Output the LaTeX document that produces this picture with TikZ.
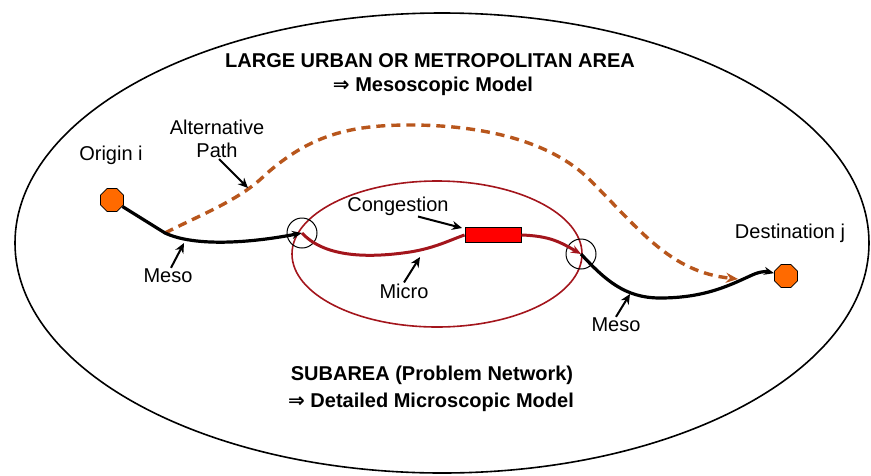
\documentclass[tikz,border=0pt]{standalone}
\usepackage{fontspec}
\setmainfont{Liberation Sans}
\newfontfamily\arrowfont{DejaVu Sans}
\usetikzlibrary{arrows.meta,positioning,shapes.geometric}
\definecolor{pathbrown}{HTML}{B8561C}
\definecolor{microred}{HTML}{A3151C}
\definecolor{nodeorange}{HTML}{FF6A00}
\newcommand{\implarrow}{{\arrowfont\bfseries ⇒}}
\tikzset{
  lbl/.style={font=\fontsize{20}{23}\selectfont, inner sep=1pt},
  ttl/.style={font=\fontsize{20}{23}\selectfont\bfseries, inner sep=1pt},
  endpt/.style={regular polygon, regular polygon sides=8, draw=black, fill=nodeorange,
    minimum size=25pt, inner sep=0pt, line width=0.8pt},
  junc/.style={circle, draw=black, minimum size=30pt, inner sep=0pt, line width=1pt},
  meso/.style={-{Stealth[length=10pt,width=8pt]}, line width=3.2pt, black},
  micro/.style={line width=3pt, microred},
  alt/.style={-{Stealth[length=12pt,width=10pt]}, dash pattern=on 9pt off 6pt, line width=3.4pt, pathbrown},
  ptr/.style={-{Stealth[length=10pt,width=9pt]}, line width=2pt},
}

\begin{document}
\begin{tikzpicture}[x=1pt,y=-1pt]
  \useasboundingbox (0,0) rectangle (871,475);
  % study area and subarea
  \draw[line width=1.6pt] (442,243) ellipse [x radius=427, y radius=230];
  \draw[microred, line width=1.6pt] (437,254) ellipse [x radius=145, y radius=73];

  \node[endpt] (orig) at (112,200) {};
  \node[endpt] (dest) at (786,276) {};
  \node[junc] (jA) at (302,233) {};
  \node[junc] (jB) at (581,254) {};
  \node[draw=black, fill=red, minimum width=56pt, minimum height=15pt,
    inner sep=0pt, line width=0.9pt] (cong) at (493,235) {};

  \node[ttl] (areaT) at (430,61) {LARGE URBAN OR METROPOLITAN AREA};
  \node[ttl] (areaM) at (433,86) {\implarrow{} Mesoscopic Model};
  \node[ttl] (subT) at (432,375) {SUBAREA (Problem Network)};
  \node[ttl] (subM) at (431,402) {\implarrow{} Detailed Microscopic Model};

  \node[lbl] (lblOrig) at (111,155) {Origin i};
  \node[lbl, align=center] (lblAlt) at (217,139) {Alternative\\Path};
  \node[lbl] (lblMesoA) at (168,276) {Meso};
  \node[lbl] (lblCong) at (398,206) {Congestion};
  \node[lbl] (lblMicro) at (404,291) {Micro};
  \node[lbl] (lblMesoB) at (616,325) {Meso};
  \node[lbl] (lblDest) at (790,233) {Destination j};

  \coordinate (split) at (165,233);
  \coordinate (altEnd) at (738,279);
  \coordinate (altPt) at (248,188);
  \coordinate (mesoAPt) at (184,243);
  \coordinate (congPt) at (462,228);
  \coordinate (microPt) at (420,257);
  \coordinate (mesoBPt) at (630,294);

  % alternative route
  \draw[alt] (split) .. controls (200,215) and (240,200) .. (265,175)
    .. controls (310,135) and (350,125) .. (410,125)
    .. controls (480,125) and (550,140) .. (590,180)
    .. controls (640,230) and (670,272) .. (altEnd);

  % main route
  \draw[meso] (orig) -- (split) .. controls (195,247) and (250,243) .. (jA.center);
  \draw[micro] (jA.center) .. controls (325,258) and (370,258) .. (410,252)
    .. controls (435,248) and (450,240) .. (cong.west);
  \draw[micro, -{Stealth[length=10pt,width=8pt]}] (cong.east)
    .. controls (550,236) and (560,242) .. (jB.center);
  \draw[meso] (jB.center) .. controls (605,280) and (625,298) .. (660,298)
    .. controls (705,298) and (730,285) .. (750,276)
    .. controls (758,272) and (765,271) .. (dest);

  % pointers
  \draw[ptr] ([xshift=2pt]lblAlt.south) -- (altPt);
  \draw[ptr] ([xshift=3pt]lblMesoA.north) -- (mesoAPt);
  \draw[ptr] ([xshift=20pt]lblCong.south) -- (congPt);
  \draw[ptr] (lblMicro.north) -- (microPt);
  \draw[ptr] (lblMesoB.north) -- (mesoBPt);
\end{tikzpicture}
\end{document}
